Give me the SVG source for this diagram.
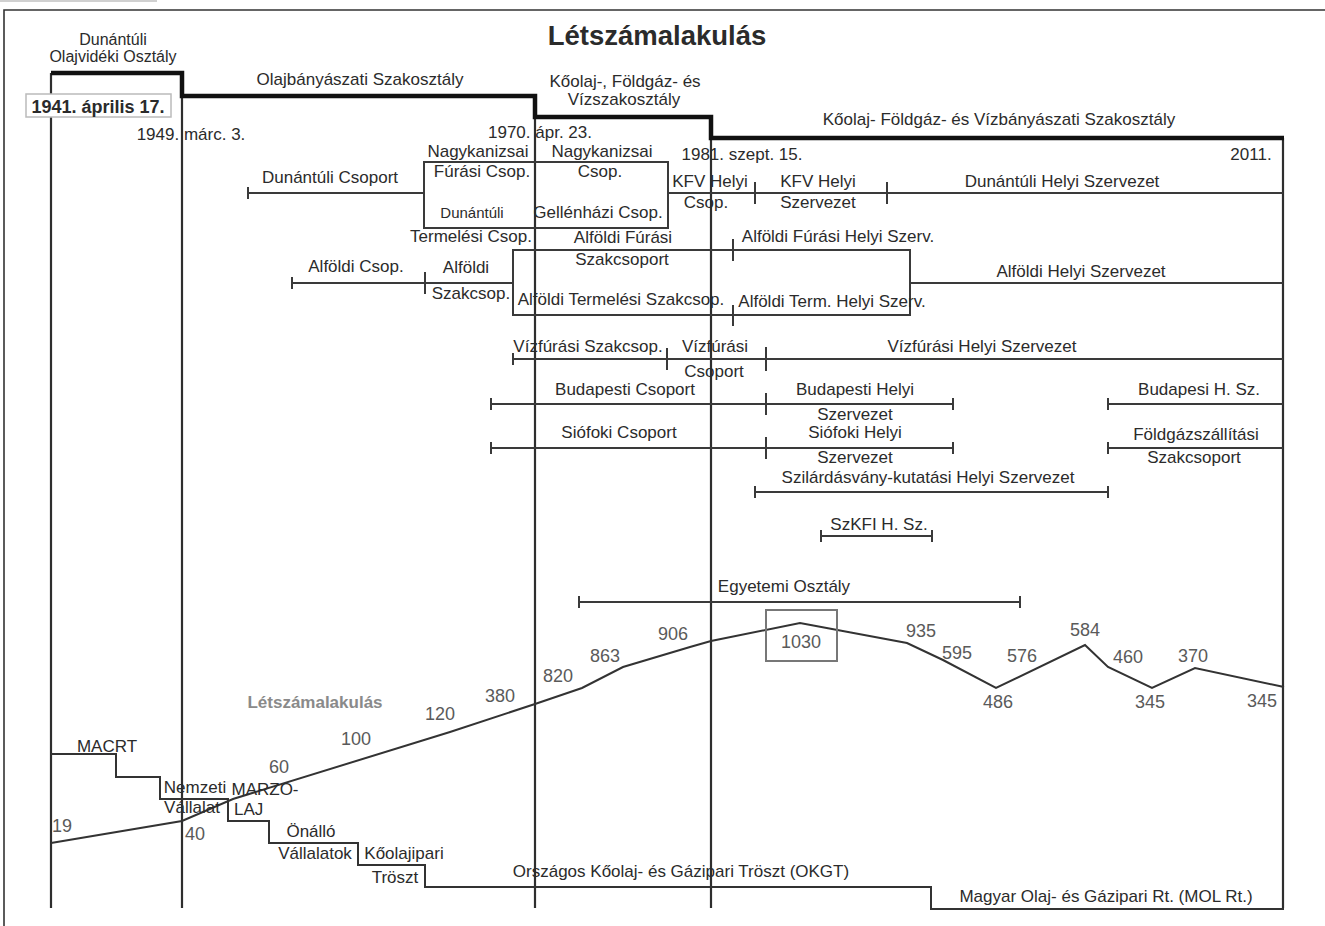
<svg xmlns="http://www.w3.org/2000/svg" width="1325" height="926" viewBox="0 0 1325 926">
<style>
text{font-family:"Liberation Sans",Arial,sans-serif;font-size:17px;fill:#2b2b2b;text-anchor:middle}
.b{font-weight:bold}
.n{font-size:18px;fill:#5a5a5a}
.g{fill:#8a8a8a;font-weight:bold}
.ln{stroke:#3a3a3a;stroke-width:2;fill:none}
.col{stroke:#2e2e2e;stroke-width:2.2;fill:none}
.thick{stroke:#111;stroke-width:4.5;fill:none}
.st{stroke:#333;stroke-width:2;fill:none}
</style>
<rect width="1325" height="926" fill="#fff"/>
<line x1="0" y1="1" x2="157" y2="1" stroke="#d0d0d0" stroke-width="2"/>
<path d="M4 926 V10 H1325" stroke="#333" stroke-width="1.6" fill="none"/>

<g id="title"><text class="b" x="657" y="45" style="font-size:27.5px">Létszámalakulás</text></g>

<g id="columns">
<line class="col" x1="51" y1="73" x2="51" y2="908"/>
<line class="col" x1="182" y1="73" x2="182" y2="908"/>
<line class="col" x1="535" y1="96" x2="535" y2="908"/>
<line class="col" x1="711" y1="117" x2="711" y2="908"/>
<line class="col" x1="1283" y1="138" x2="1283" y2="908"/>
<path class="thick" d="M51 73 H182 V96 H535 V117 H711 V138 H1284"/>
</g>

<g id="periods">
<text x="113" y="45" style="font-size:16px">Dunántúli</text>
<text x="113" y="62" style="font-size:16px">Olajvidéki Osztály</text>
<text x="360" y="85">Olajbányászati Szakosztály</text>
<text x="625" y="87">Kőolaj-, Földgáz- és</text>
<text x="624" y="105">Vízszakosztály</text>
<text x="999" y="125">Kőolaj- Földgáz- és Vízbányászati Szakosztály</text>
</g>

<g id="dates">
<rect x="26" y="94" width="145" height="23" fill="#fff" stroke="#bbb" stroke-width="1.5"/>
<text class="b" x="98" y="113" style="font-size:18px">1941. április 17.</text>
<text x="191" y="140">1949. márc. 3.</text>
<text x="540" y="138">1970. ápr. 23.</text>
<text x="742" y="160">1981. szept. 15.</text>
<text x="1251" y="160">2011.</text>
</g>

<g id="connectors">
<line class="ln" x1="248" y1="193" x2="424" y2="193"/>
<line class="ln" x1="248" y1="187" x2="248" y2="199"/>
<line class="ln" x1="668" y1="193" x2="1283" y2="193"/>
<line class="ln" x1="755" y1="182" x2="755" y2="204"/>
<line class="ln" x1="887" y1="182" x2="887" y2="204"/>
<line class="ln" x1="292" y1="283" x2="513" y2="283"/>
<line class="ln" x1="292" y1="277" x2="292" y2="289"/>
<line class="ln" x1="425" y1="272" x2="425" y2="294"/>
<line class="ln" x1="910" y1="283" x2="1283" y2="283"/>
<line class="ln" x1="733" y1="239" x2="733" y2="261"/>
<line class="ln" x1="733" y1="305" x2="733" y2="326"/>
<line class="ln" x1="513" y1="359" x2="1283" y2="359"/>
<line class="ln" x1="513" y1="353" x2="513" y2="365"/>
<line class="ln" x1="667" y1="348" x2="667" y2="370"/>
<line class="ln" x1="766" y1="347" x2="766" y2="371"/>
<line class="ln" x1="491" y1="404" x2="953" y2="404"/>
<line class="ln" x1="491" y1="398" x2="491" y2="410"/>
<line class="ln" x1="766" y1="393" x2="766" y2="415"/>
<line class="ln" x1="953" y1="398" x2="953" y2="410"/>
<line class="ln" x1="1108" y1="404" x2="1283" y2="404"/>
<line class="ln" x1="1108" y1="398" x2="1108" y2="410"/>
<line class="ln" x1="491" y1="448" x2="953" y2="448"/>
<line class="ln" x1="491" y1="442" x2="491" y2="454"/>
<line class="ln" x1="766" y1="437" x2="766" y2="459"/>
<line class="ln" x1="953" y1="442" x2="953" y2="454"/>
<line class="ln" x1="1108" y1="448" x2="1283" y2="448"/>
<line class="ln" x1="1108" y1="442" x2="1108" y2="454"/>
<line class="ln" x1="755" y1="492" x2="1108" y2="492"/>
<line class="ln" x1="755" y1="486" x2="755" y2="498"/>
<line class="ln" x1="1108" y1="486" x2="1108" y2="498"/>
<line class="ln" x1="821" y1="536" x2="932" y2="536"/>
<line class="ln" x1="821" y1="530" x2="821" y2="542"/>
<line class="ln" x1="932" y1="530" x2="932" y2="542"/>
<line class="ln" x1="579" y1="602" x2="1020" y2="602"/>
<line class="ln" x1="579" y1="596" x2="579" y2="608"/>
<line class="ln" x1="1020" y1="596" x2="1020" y2="608"/>
</g>

<g id="dunantul">
<text x="330" y="183">Dunántúli Csoport</text>
<rect x="424" y="162" width="244" height="66" class="ln"/>
<text x="478" y="157">Nagykanizsai</text>
<text x="602" y="157">Nagykanizsai</text>
<text x="482" y="177">Fúrási Csop.</text>
<text x="600" y="177">Csop.</text>
<text x="472" y="218" style="font-size:15px">Dunántúli</text>
<text x="598" y="218">Gellénházi Csop.</text>
<text x="471" y="242">Termelési Csop.</text>
<text x="710" y="187">KFV Helyi</text>
<text x="706" y="208">Csop.</text>
<text x="818" y="187">KFV Helyi</text>
<text x="818" y="208">Szervezet</text>
<text x="1062" y="187">Dunántúli Helyi Szervezet</text>
</g>

<g id="alfold">
<text x="356" y="272">Alföldi Csop.</text>
<text x="466" y="273">Alföldi</text>
<text x="471" y="299">Szakcsop.</text>
<rect x="513" y="250" width="397" height="65" class="ln"/>
<text x="623" y="243">Alföldi Fúrási</text>
<text x="622" y="265">Szakcsoport</text>
<text x="621" y="305">Alföldi Termelési Szakcsop.</text>
<text x="838" y="242">Alföldi Fúrási Helyi Szerv.</text>
<text x="832" y="307">Alföldi Term. Helyi Szerv.</text>
<text x="1081" y="277">Alföldi Helyi Szervezet</text>
</g>

<g id="vizfurasi">
<text x="588" y="352">Vízfúrási Szakcsop.</text>
<text x="715" y="352">Vízfúrási</text>
<text x="714" y="377">Csoport</text>
<text x="982" y="352">Vízfúrási Helyi Szervezet</text>
</g>

<g id="budapest">
<text x="625" y="395">Budapesti Csoport</text>
<text x="855" y="395">Budapesti Helyi</text>
<text x="855" y="420">Szervezet</text>
<text x="1199" y="395">Budapesi H. Sz.</text>
</g>

<g id="siofok">
<text x="619" y="438">Siófoki Csoport</text>
<text x="855" y="438">Siófoki Helyi</text>
<text x="855" y="463">Szervezet</text>
<text x="1196" y="440">Földgázszállítási</text>
<text x="1194" y="463">Szakcsoport</text>
</g>

<g id="szilard"><text x="928" y="483">Szilárdásvány-kutatási Helyi Szervezet</text></g>
<g id="szkfi"><text x="879" y="530">SzKFI H. Sz.</text></g>
<g id="egyetemi"><text x="784" y="592">Egyetemi Osztály</text></g>

<g id="chart">
<text class="g" x="315" y="708">Létszámalakulás</text>
<polyline class="st" stroke="#444" points="51,843 182,821 233,799 450,732 535,704 582,688 623,667 690,647 711,641 800,623 907,643 943,660 996,688 1085,645 1108,667 1152,688 1195,668 1284,687"/>
<rect x="766" y="610" width="71" height="51" fill="none" stroke="#777" stroke-width="2"/>
<text class="n" x="62" y="832">19</text>
<text class="n" x="195" y="840">40</text>
<text class="n" x="279" y="773">60</text>
<text class="n" x="356" y="745">100</text>
<text class="n" x="440" y="720">120</text>
<text class="n" x="500" y="702">380</text>
<text class="n" x="558" y="682">820</text>
<text class="n" x="605" y="662">863</text>
<text class="n" x="673" y="640">906</text>
<text class="n" x="801" y="648">1030</text>
<text class="n" x="921" y="637">935</text>
<text class="n" x="957" y="659">595</text>
<text class="n" x="998" y="708">486</text>
<text class="n" x="1022" y="662">576</text>
<text class="n" x="1085" y="636">584</text>
<text class="n" x="1128" y="663">460</text>
<text class="n" x="1193" y="662">370</text>
<text class="n" x="1150" y="708">345</text>
<text class="n" x="1262" y="707">345</text>
</g>

<g id="companies">
<path class="st" d="M51 754 H116 V777 H160 V799 H228 V821 H269 V843 H358 V865 H425 V887 H931 V909 H1284"/>
<text x="107" y="752">MACRT</text>
<text x="195" y="793">Nemzeti</text>
<text x="192" y="813">Vállalat</text>
<text x="265" y="795">MARZO-</text>
<text x="234" y="815" style="text-anchor:start">LAJ</text>
<text x="311" y="837">Önálló</text>
<text x="315" y="859">Vállalatok</text>
<text x="404" y="859">Kőolajipari</text>
<text x="395" y="883">Tröszt</text>
<text x="681" y="877">Országos Kőolaj- és Gázipari Tröszt (OKGT)</text>
<text x="1106" y="902">Magyar Olaj- és Gázipari Rt. (MOL Rt.)</text>
</g>
</svg>
